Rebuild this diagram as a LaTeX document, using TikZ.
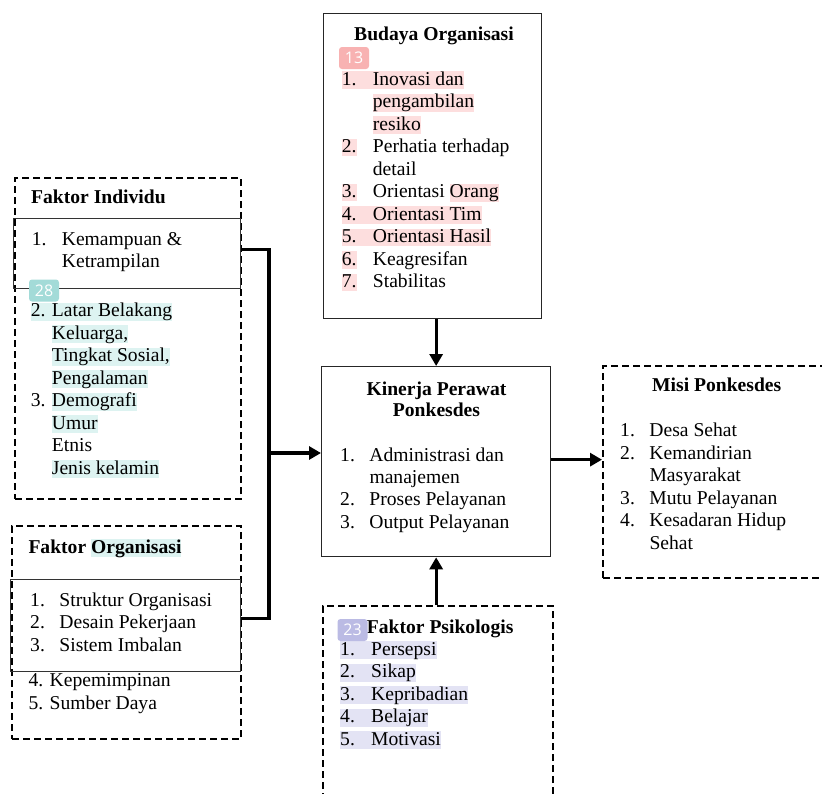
\documentclass[tikz,border=0pt]{standalone}
\usepackage{fontspec}
\setmainfont{Liberation Serif}
\newfontfamily\badgefont{Open Sans}
\usepackage{array}
\usetikzlibrary{arrows.meta, positioning}

\definecolor{hlteal}{HTML}{DDF3F1}
\definecolor{hlpink}{HTML}{FDDEDE}
\definecolor{hllav}{HTML}{E3E3F4}
\definecolor{bdteal}{HTML}{A3DBD8}
\definecolor{bdpink}{HTML}{F8B2B2}
\definecolor{bdlav}{HTML}{BBBBE4}

\newcommand{\hlbox}[2]{{\setlength{\fboxsep}{0pt}\colorbox{#1}{\rule[-3.5pt]{0pt}{17.5pt}#2}}}
\newcommand{\hlrow}[4]{\multicolumn{2}{@{}l@{}}{\hlbox{#1}{\makebox[#2][l]{#3}#4}}}

\begin{document}
\begin{tikzpicture}[x=1pt, y=-1pt, >={Triangle[length=12pt,width=13pt]},
  font=\fontsize{19.6}{22.5}\selectfont,
  dashbox/.style={draw, line width=2.2pt, dash pattern=on 7pt off 4pt, anchor=north west, inner sep=0pt},
  solidbox/.style={draw=black!85, line width=1.3pt, anchor=north west, inner sep=0pt},
  innerbox/.style={draw=black!80, line width=1pt, anchor=north west, inner sep=0pt},
  headtext/.style={font=\fontsize{19.6}{22.5}\selectfont\bfseries, inner sep=0pt},
  listtext/.style={anchor=base west, inner sep=0pt},
  conn/.style={line width=3.2pt, line join=miter},
  badge/.style={rounded corners=3pt, text=white, font=\badgefont\fontsize{16}{16}\selectfont,
    minimum width=30pt, minimum height=22pt, inner sep=0pt}]

\useasboundingbox (0,0) rectangle (822,793);
\clip (0,0) rectangle (822,793);

% --- boxes ---
\node[dashbox, minimum width=226pt, minimum height=321pt] (indiv) at (14,177) {};
\node[innerbox, minimum width=227pt, minimum height=70pt] (indivin) at (13,218) {};
\node[dashbox, minimum width=229pt, minimum height=213pt] (org) at (11,525) {};
\node[innerbox, minimum width=230pt, minimum height=92pt] (orgin) at (10,579) {};
\node[solidbox, minimum width=218pt, minimum height=305pt] (budaya) at (323,13) {};
\node[solidbox, minimum width=229pt, minimum height=190pt] (kinerja) at (321,366) {};
\node[dashbox, minimum width=226pt, minimum height=212pt] (misi) at (602,365) {};
\node[dashbox, minimum width=230pt, minimum height=200pt] (psiko) at (322,605) {};

% --- Faktor Individu ---
\node[headtext, anchor=base west] (indivtitle) at (31,203) {Faktor Individu};
\node[listtext] (indivlista) at (31.7,245) {\begin{tabular}[t]{@{}p{30pt}@{}l@{}}
1. & Kemampuan \&\\
   & Ketrampilan
\end{tabular}};
\node[listtext] (indivlistb) at (30.7,316.7) {\begin{tabular}[t]{@{}p{21pt}@{}l@{}}
\hlrow{hlteal}{21pt}{2.}{Latar Belakang}\\
   & \hlbox{hlteal}{Keluarga,}\\
   & \hlbox{hlteal}{Tingkat Sosial,}\\
   & \hlbox{hlteal}{Pengalaman}\\
3. & \hlbox{hlteal}{Demografi}\\
   & \hlbox{hlteal}{Umur}\\
   & Etnis\\
   & \hlbox{hlteal}{Jenis kelamin}
\end{tabular}};

% --- Faktor Organisasi ---
\node[headtext, anchor=base west] (orgtitle) at (28.3,553) {Faktor \hlbox{hlteal}{Organisasi}};
\node[listtext] (orglista) at (30,606) {\begin{tabular}[t]{@{}p{29.3pt}@{}l@{}}
1. & Struktur Organisasi\\
2. & Desain Pekerjaan\\
3. & Sistem Imbalan
\end{tabular}};
\node[listtext] (orglistb) at (28.3,686.7) {\begin{tabular}[t]{@{}l@{}}
4. Kepemimpinan\\
5. Sumber Daya
\end{tabular}};

% --- Budaya Organisasi ---
\node[headtext, anchor=base] (budtitle) at (434,40) {Budaya Organisasi};
\node[listtext] (budlist) at (341.7,85) {\begin{tabular}[t]{@{}p{31pt}@{}l@{}}
\hlrow{hlpink}{31pt}{1.}{Inovasi dan}\\
   & \hlbox{hlpink}{pengambilan}\\
   & \hlbox{hlpink}{resiko}\\
\hlbox{hlpink}{2.} & Perhatia terhadap\\
   & detail\\
\hlbox{hlpink}{3.} & Orientasi \hlbox{hlpink}{Orang}\\
\hlrow{hlpink}{31pt}{4.}{Orientasi Tim}\\
\hlrow{hlpink}{31pt}{5.}{Orientasi Hasil}\\
\hlbox{hlpink}{6.} & Keagresifan\\
\hlbox{hlpink}{7.} & Stabilitas
\end{tabular}};

% --- Kinerja Perawat ---
\node[headtext, anchor=base] (kintitle) at (436.5,395) {\begin{tabular}[t]{@{}c@{}}
Kinerja Perawat\\[-0.8pt]
Ponkesdes
\end{tabular}};
\node[listtext] (kinlist) at (340,461.7) {\begin{tabular}[t]{@{}p{29.3pt}@{}l@{}}
1. & Administrasi dan\\[-0.4pt]
   & manajemen\\[-0.4pt]
2. & Proses Pelayanan\\[-0.4pt]
3. & Output Pelayanan
\end{tabular}};

% --- Misi Ponkesdes ---
\node[headtext, anchor=base] (misititle) at (716.7,391.7) {Misi Ponkesdes};
\node[listtext] (misilist) at (620,436.7) {\begin{tabular}[t]{@{}p{29.3pt}@{}l@{}}
1. & Desa Sehat\\
2. & Kemandirian\\
   & Masyarakat\\
3. & Mutu Pelayanan\\
4. & Kesadaran Hidup\\
   & Sehat
\end{tabular}};

% --- Faktor Psikologis ---
\node[headtext, anchor=base west] (psikotitle) at (366.7,633.3) {Faktor Psikologis};
\node[listtext] (psikolist) at (340,655) {\begin{tabular}[t]{@{}l@{}}
\hlbox{hllav}{\makebox[31pt][l]{1.}Persepsi}\\
\hlbox{hllav}{\makebox[31pt][l]{2.}Sikap}\\
\hlbox{hllav}{\makebox[31pt][l]{3.}Kepribadian}\\
\hlbox{hllav}{\makebox[31pt][l]{4.}Belajar}\\
\hlbox{hllav}{\makebox[31pt][l]{5.}Motivasi}
\end{tabular}};

% --- connectors ---
\coordinate (brk) at (268,453);
\draw[conn] ([yshift=4pt]indivin.east) -- ++(28,0) |- ([yshift=7pt]orgin.east);
\draw[conn, ->] (brk) -- (brk -| kinerja.west);
\draw[conn, ->] (budaya.south -| kinerja.north) -- (kinerja.north);
\draw[conn, ->] (psiko.north -| kinerja.south) -- (kinerja.south);
\draw[conn, ->] ([yshift=2pt]kinerja.east) -- ([yshift=2pt]kinerja.east -| misi.west);

% --- badges ---
\node[badge, fill=bdteal] (badge28) at (44,290.5) {28};
\node[badge, fill=bdpink] (badge13) at (354,58) {13};
\node[badge, fill=bdlav] (badge23) at (352.5,630) {23};

\end{tikzpicture}
\end{document}
